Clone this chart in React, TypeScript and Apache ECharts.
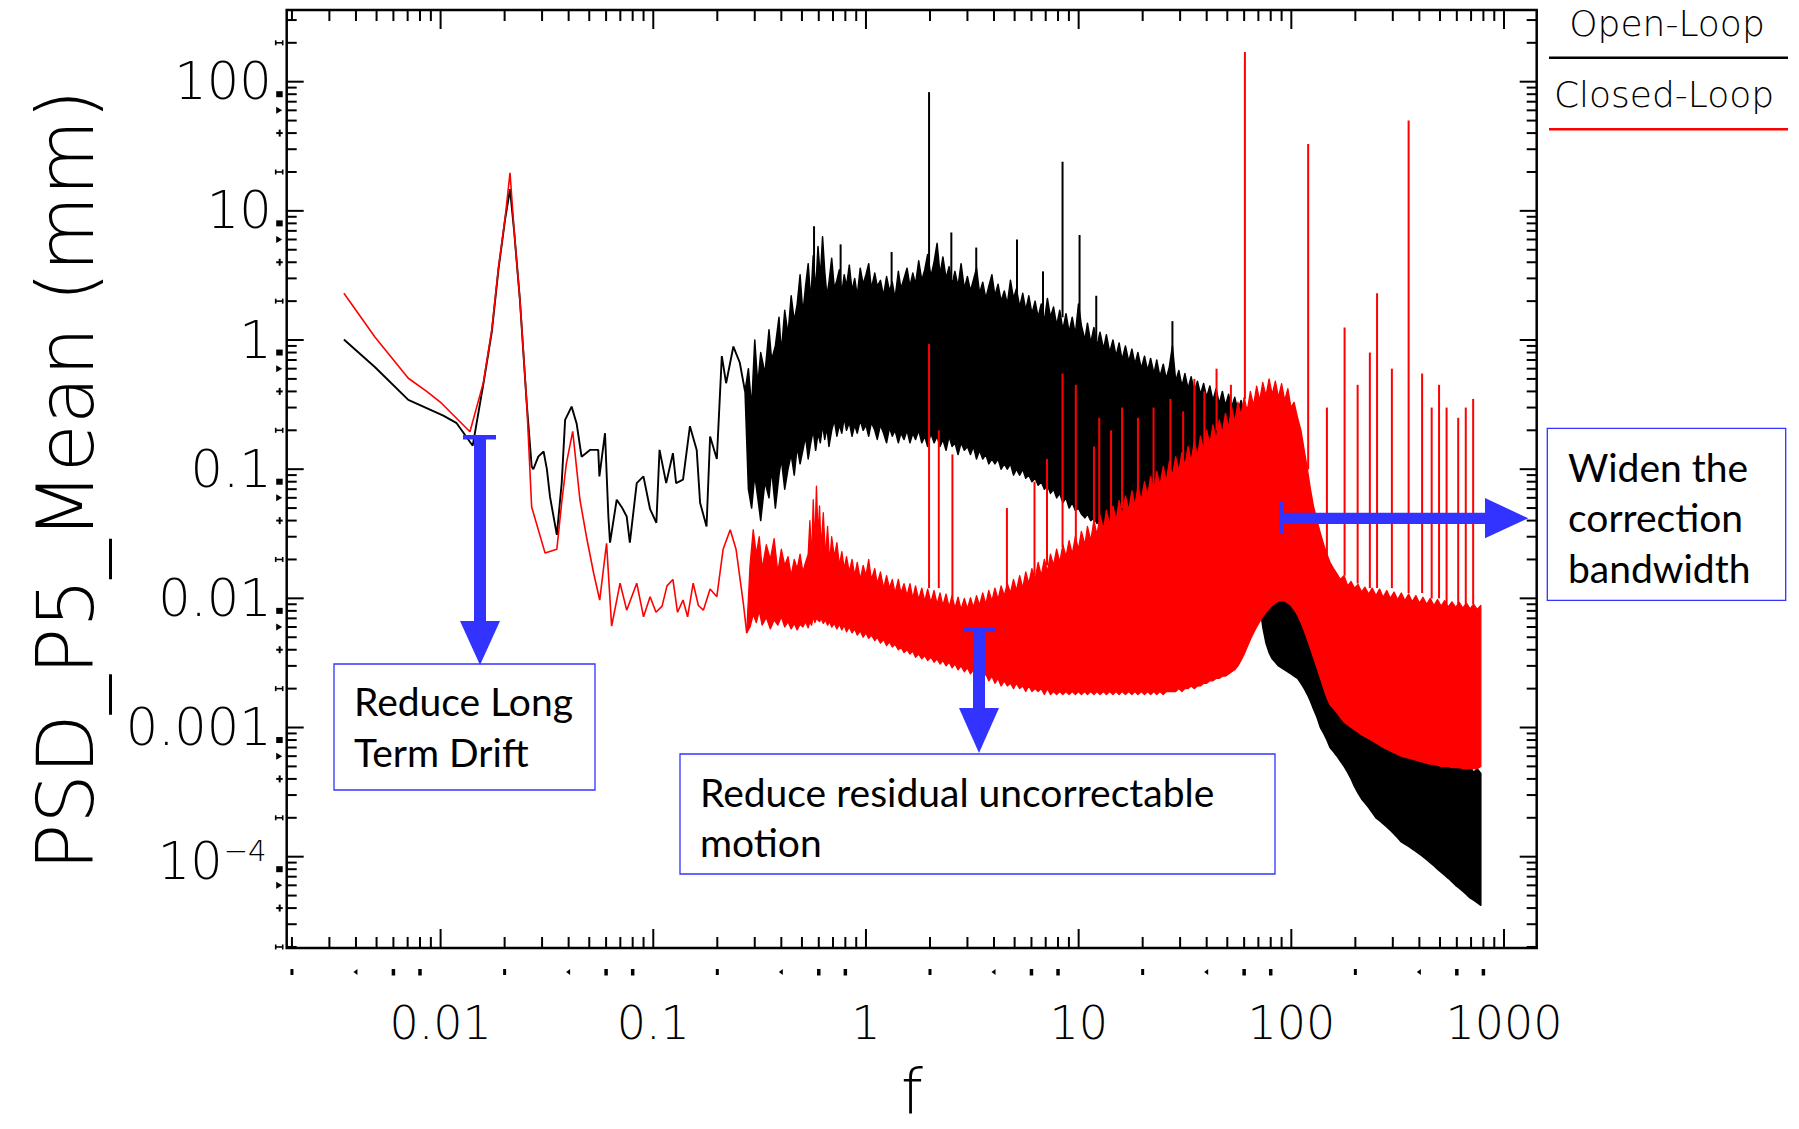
import React, { useEffect, useRef } from "react";
import * as echarts from "echarts";

const PAGE_W = 1799;
const PAGE_H = 1129;

// axis extents, log10
const X_LOG_MIN = -2.7236;
const X_LOG_MAX = 3.1537;
const Y_LOG_MIN = -4.707;
const Y_LOG_MAX = 2.555;

const xTickValues = [0.01, 0.1, 1, 10, 100, 1000];
const xTickLabels = ["0.01", "0.1", "1", "10", "100", "1000"];
const yTickValues = [100, 10, 1, 0.1, 0.01, 0.001];
const yTickLabels = ["100", "10", "1", "0.1", "0.01", "0.001"];
const yPowerTickValue = 0.0001;
const yPowerBase = "10";
const yPowerExponent = "−4";
const minorMultipliers = [2, 3, 4, 5, 6, 7, 8, 9];

const seriesNames = ["Open-Loop", "Closed-Loop"];

// Open-Loop: single-valued part [f, value]
const openLine = [
  [0.00351, 1.01], [0.00492, 0.615], [0.00705, 0.344], [0.0103, 0.26], [0.0119, 0.227], [0.01416, 0.152],
  [0.0159, 0.46], [0.0174, 1.15], [0.0187, 3.5], [0.0201, 8.6], [0.0212, 14.7], [0.0222, 6.8], [0.0236, 2.04],
  [0.0254, 0.324], [0.0268, 0.105], [0.0273, 0.1], [0.0288, 0.125], [0.0305, 0.137], [0.0316, 0.1], [0.0327, 0.061],
  [0.0352, 0.031], [0.0371, 0.078], [0.0385, 0.241], [0.0413, 0.305], [0.0436, 0.226], [0.046, 0.125], [0.0504, 0.141],
  [0.0551, 0.141], [0.0558, 0.088], [0.0593, 0.19], [0.0615, 0.043], [0.0626, 0.027], [0.0673, 0.058], [0.0715, 0.05],
  [0.075, 0.043], [0.0776, 0.027], [0.0836, 0.078], [0.0899, 0.088], [0.0966, 0.049], [0.1034, 0.0385], [0.107, 0.141],
  [0.115, 0.078], [0.1237, 0.133], [0.128, 0.078], [0.138, 0.083], [0.1487, 0.215], [0.16, 0.141], [0.166, 0.055],
  [0.178, 0.036], [0.185, 0.179], [0.199, 0.12], [0.21, 0.75], [0.22, 0.463], [0.238, 0.89], [0.255, 0.67], [0.27, 0.4],
];

// Open-Loop: noisy band [f, upper, lower]
const openBand = [
  [0.27, 0.4, 0.4], [0.28, 0.6, 0.07], [0.29, 0.3, 0.05], [0.3, 1.0, 0.09], [0.31, 0.45, 0.06], [0.32, 0.8, 0.04],
  [0.335, 0.55, 0.08], [0.35, 1.2, 0.06], [0.36, 0.7, 0.1], [0.375, 0.9, 0.05], [0.39, 1.5, 0.09], [0.4, 0.8, 0.12],
  [0.415, 1.7, 0.07], [0.43, 1.1, 0.1], [0.445, 2.2, 0.13], [0.46, 1.4, 0.09], [0.475, 1.9, 0.15], [0.49, 3.2, 0.11],
  [0.505, 1.6, 0.14], [0.52, 2.6, 0.18], [0.535, 3.9, 0.12], [0.55, 2.0, 0.16], [0.565, 4.5, 0.2], [0.58, 2.4, 0.14],
  [0.595, 5.3, 0.19], [0.61, 3.0, 0.16], [0.625, 6.3, 0.22], [0.64, 3.4, 0.17], [0.655, 2.2, 0.21], [0.67, 2.8, 0.15],
  [0.69, 4.3, 0.2], [0.71, 2.5, 0.24], [0.73, 2.9, 0.18], [0.75, 3.5, 0.22], [0.77, 2.3, 0.19], [0.79, 3.2, 0.25],
  [0.81, 2.6, 0.2], [0.835, 3.8, 0.23], [0.86, 2.4, 0.18], [0.885, 3.0, 0.22], [0.91, 2.2, 0.19], [0.94, 3.6, 0.24],
  [0.97, 2.7, 0.2], [1.0, 3.2, 0.22], [1.03, 3.9, 0.18], [1.06, 2.5, 0.23], [1.1, 3.3, 0.2], [1.13, 2.6, 0.17],
  [1.17, 2.9, 0.22], [1.21, 2.2, 0.19], [1.25, 3.1, 0.16], [1.29, 2.4, 0.21], [1.33, 2.8, 0.18], [1.37, 2.1, 0.2],
  [1.42, 3.4, 0.16], [1.46, 2.5, 0.19], [1.51, 3.0, 0.17], [1.56, 3.6, 0.2], [1.61, 2.6, 0.16], [1.66, 3.3, 0.19],
  [1.71, 2.7, 0.17], [1.77, 4.1, 0.2], [1.83, 2.9, 0.16], [1.89, 3.5, 0.18], [1.95, 4.6, 0.15], [2.02, 3.1, 0.19],
  [2.09, 4.0, 0.16], [2.16, 5.6, 0.18], [2.23, 3.2, 0.15], [2.3, 4.4, 0.17], [2.38, 3.0, 0.14], [2.46, 3.7, 0.18],
  [2.54, 2.7, 0.15], [2.62, 3.4, 0.16], [2.71, 2.6, 0.13], [2.8, 3.9, 0.16], [2.9, 2.5, 0.14], [3.0, 3.1, 0.15],
  [3.1, 2.4, 0.13], [3.2, 2.9, 0.15], [3.31, 3.6, 0.12], [3.42, 2.3, 0.14], [3.54, 2.8, 0.12], [3.66, 2.1, 0.13],
  [3.78, 2.6, 0.11], [3.91, 3.2, 0.12], [4.04, 2.2, 0.11], [4.18, 2.7, 0.12], [4.32, 2.0, 0.1], [4.47, 2.4, 0.11],
  [4.62, 1.9, 0.1], [4.78, 2.9, 0.11], [4.94, 2.1, 0.09], [5.1, 2.5, 0.1], [5.28, 1.8, 0.09], [5.46, 2.3, 0.1],
  [5.64, 1.7, 0.085], [5.83, 2.2, 0.09], [6.03, 1.6, 0.08], [6.24, 2.0, 0.085], [6.45, 1.5, 0.075], [6.67, 1.9, 0.08],
  [6.9, 1.4, 0.07], [7.13, 2.1, 0.075], [7.37, 1.5, 0.065], [7.62, 1.8, 0.07], [7.88, 1.3, 0.06], [8.15, 1.7, 0.065],
  [8.43, 1.2, 0.055], [8.72, 1.6, 0.06], [9.02, 1.15, 0.05], [9.33, 1.5, 0.055], [9.65, 1.1, 0.048], [9.98, 1.9, 0.05],
  [10.3, 1.3, 0.045], [10.7, 1.0, 0.042], [11.0, 1.35, 0.045], [11.4, 0.95, 0.04], [11.8, 1.25, 0.042], [12.2, 0.9, 0.038],
  [12.6, 1.15, 0.04], [13.1, 0.85, 0.036], [13.5, 1.1, 0.038], [14.0, 0.8, 0.035], [14.5, 1.0, 0.036], [15.0, 0.75, 0.034],
  [15.5, 0.95, 0.035], [16.0, 0.7, 0.033], [16.6, 0.9, 0.034], [17.2, 0.68, 0.032], [17.8, 0.85, 0.033], [18.4, 0.65, 0.031],
  [19.0, 0.8, 0.032], [19.7, 0.6, 0.03], [20.4, 0.75, 0.031], [21.1, 0.58, 0.03], [21.8, 0.72, 0.03], [22.6, 0.55, 0.029],
  [23.3, 0.7, 0.03], [24.1, 0.52, 0.029], [25.0, 0.65, 0.03], [25.8, 0.5, 0.029], [26.7, 0.62, 0.03], [27.6, 0.9, 0.029],
  [28.6, 0.48, 0.028], [29.6, 0.58, 0.029], [30.6, 0.44, 0.028], [31.6, 0.55, 0.028], [32.7, 0.42, 0.027], [33.8, 0.52, 0.028],
  [35.0, 0.4, 0.027], [36.2, 0.48, 0.027], [37.4, 0.38, 0.026], [38.7, 0.46, 0.026], [40.0, 0.36, 0.025], [41.4, 0.44, 0.025],
  [42.8, 0.34, 0.024], [44.3, 0.42, 0.024], [45.8, 0.32, 0.023], [47.4, 0.4, 0.023], [49.0, 0.31, 0.022], [50.7, 0.38, 0.022],
  [52.4, 0.3, 0.021], [54.2, 0.36, 0.021], [56.1, 0.28, 0.02], [58.0, 0.34, 0.02], [60.0, 0.27, 0.019], [62.0, 0.3, 0.019],
  [64.2, 0.22, 0.018], [66.4, 0.12, 0.016], [68.7, 0.06, 0.012], [71.0, 0.03, 0.009], [73.4, 0.02, 0.006],
  [76.0, 0.016, 0.0045], [78.6, 0.014, 0.0038], [81.3, 0.015, 0.0034], [84.1, 0.013, 0.0032], [87.0, 0.016, 0.003],
  [90.0, 0.012, 0.0029], [93.1, 0.014, 0.0028], [96.3, 0.011, 0.0027], [99.6, 0.013, 0.0026], [103, 0.01, 0.0025],
  [107, 0.011, 0.0024], [111, 0.009, 0.0022], [115, 0.0095, 0.002], [119, 0.008, 0.0018], [123, 0.0072, 0.0016],
  [127, 0.0065, 0.0014], [132, 0.0058, 0.0012], [137, 0.005, 0.001], [142, 0.0044, 0.0009], [147, 0.0038, 0.0008],
  [152, 0.0033, 0.0007], [158, 0.0028, 0.00065], [164, 0.0024, 0.0006], [170, 0.0021, 0.00055], [177, 0.0018, 0.0005],
  [184, 0.0016, 0.00045], [191, 0.0014, 0.0004], [198, 0.00125, 0.00035], [206, 0.0011, 0.00031], [214, 0.0012, 0.00028],
  [222, 0.001, 0.00026], [231, 0.00105, 0.00024], [240, 0.0009, 0.00022], [250, 0.00098, 0.0002], [260, 0.00085, 0.00019],
  [270, 0.0009, 0.00018], [281, 0.0008, 0.00017], [292, 0.00086, 0.00016], [304, 0.00075, 0.00015], [316, 0.0008, 0.00014],
  [329, 0.0007, 0.00013], [342, 0.00076, 0.000125], [356, 0.00068, 0.00012], [370, 0.00072, 0.000115], [385, 0.00064, 0.00011],
  [400, 0.0007, 0.000105], [416, 0.0006, 0.0001], [433, 0.00066, 0.000095], [450, 0.00058, 0.00009], [468, 0.00062, 0.000085],
  [487, 0.00055, 0.00008], [506, 0.0006, 0.000076], [526, 0.00052, 0.000072], [547, 0.00056, 0.000068], [569, 0.0005, 0.000064],
  [592, 0.00054, 0.00006], [616, 0.00048, 0.000057], [640, 0.00052, 0.000054], [666, 0.00046, 0.000051], [692, 0.0005, 0.000048],
  [720, 0.00045, 0.000046], [748, 0.00048, 0.000044], [778, 0.00044, 0.000042],
];

// Open-Loop spikes [f, base, top]
const openSpikes = [
  [0.57, 3.0, 7.6], [0.76, 2.5, 5.5], [1.32, 2.5, 4.8], [1.98, 3.0, 83], [2.52, 3.0, 6.8], [3.3, 2.5, 5.2],
  [5.13, 2.0, 6.0], [6.8, 1.5, 3.4], [8.4, 1.5, 24], [10.1, 1.5, 6.5], [12.1, 1.0, 2.2], [27.6, 0.7, 1.4],
];

// Closed-Loop: single-valued part
const closedLine = [
  [0.00351, 2.3], [0.00492, 1.05], [0.00705, 0.506], [0.0086, 0.4], [0.0101, 0.324], [0.01374, 0.195],
  [0.0159, 0.47], [0.0174, 1.2], [0.0187, 3.6], [0.0201, 8.8], [0.0212, 19.7], [0.0222, 6.8], [0.0236, 2.05],
  [0.0254, 0.33], [0.0268, 0.051], [0.031, 0.0224], [0.0352, 0.024], [0.0371, 0.055], [0.039, 0.11], [0.0418, 0.196],
  [0.0452, 0.058], [0.0485, 0.03], [0.0525, 0.0155], [0.056, 0.0097], [0.0603, 0.0267], [0.0637, 0.0061], [0.0698, 0.0131],
  [0.075, 0.0081], [0.0836, 0.0131], [0.09, 0.0072], [0.0966, 0.0103], [0.103, 0.0078], [0.11, 0.0087], [0.116, 0.0125],
  [0.1237, 0.014], [0.13, 0.0078], [0.138, 0.0097], [0.145, 0.0072], [0.154, 0.0131], [0.163, 0.0088], [0.172, 0.0081],
  [0.185, 0.0118], [0.199, 0.0103], [0.213, 0.024], [0.23, 0.034], [0.245, 0.024], [0.265, 0.0092], [0.275, 0.0054],
];

// Closed-Loop: noisy band [f, upper, lower]
const closedBand = [
  [0.275, 0.0054, 0.0054], [0.285, 0.018, 0.006], [0.295, 0.034, 0.0075], [0.305, 0.022, 0.0065], [0.315, 0.03, 0.008],
  [0.325, 0.017, 0.0062], [0.34, 0.026, 0.0071], [0.355, 0.02, 0.0058], [0.37, 0.029, 0.0068], [0.385, 0.016, 0.0062],
  [0.4, 0.024, 0.0072], [0.415, 0.018, 0.006], [0.43, 0.021, 0.0066], [0.445, 0.015, 0.0058], [0.46, 0.02, 0.0064],
  [0.475, 0.017, 0.0057], [0.49, 0.022, 0.0063], [0.505, 0.016, 0.006], [0.52, 0.019, 0.0066], [0.535, 0.022, 0.0059],
  [0.545, 0.04, 0.0066], [0.555, 0.02, 0.0062], [0.565, 0.058, 0.0072], [0.575, 0.026, 0.0065], [0.585, 0.074, 0.007],
  [0.595, 0.03, 0.0068], [0.605, 0.052, 0.0066], [0.615, 0.024, 0.007], [0.63, 0.046, 0.0064], [0.645, 0.021, 0.0068],
  [0.66, 0.036, 0.0062], [0.675, 0.019, 0.0066], [0.69, 0.03, 0.006], [0.71, 0.021, 0.0064], [0.73, 0.027, 0.0058],
  [0.75, 0.018, 0.0063], [0.77, 0.023, 0.0057], [0.79, 0.017, 0.0062], [0.81, 0.021, 0.0055], [0.835, 0.016, 0.006],
  [0.86, 0.02, 0.0054], [0.885, 0.015, 0.0058], [0.91, 0.019, 0.0052], [0.94, 0.014, 0.0056], [0.97, 0.018, 0.005],
  [1.0, 0.015, 0.0054], [1.03, 0.02, 0.0049], [1.06, 0.014, 0.0052], [1.1, 0.017, 0.0047], [1.13, 0.013, 0.005],
  [1.17, 0.016, 0.0045], [1.21, 0.012, 0.0048], [1.25, 0.015, 0.0043], [1.29, 0.012, 0.0046], [1.33, 0.014, 0.0042],
  [1.37, 0.011, 0.0044], [1.42, 0.014, 0.004], [1.46, 0.011, 0.0042], [1.51, 0.013, 0.0038], [1.56, 0.0105, 0.004],
  [1.61, 0.013, 0.0037], [1.66, 0.01, 0.0039], [1.71, 0.0125, 0.0035], [1.77, 0.0098, 0.0037], [1.83, 0.012, 0.0034],
  [1.89, 0.0095, 0.0036], [1.95, 0.0118, 0.0033], [2.02, 0.0093, 0.0035], [2.09, 0.0115, 0.0032], [2.16, 0.009, 0.0034],
  [2.23, 0.011, 0.0031], [2.3, 0.0088, 0.0033], [2.38, 0.0108, 0.003], [2.46, 0.0086, 0.0032], [2.54, 0.0105, 0.0029],
  [2.62, 0.0084, 0.0031], [2.71, 0.0102, 0.0028], [2.8, 0.0082, 0.003], [2.9, 0.01, 0.0027], [3.0, 0.0083, 0.0029],
  [3.1, 0.0101, 0.0026], [3.2, 0.0085, 0.0028], [3.31, 0.0105, 0.0025], [3.42, 0.0088, 0.0027], [3.54, 0.011, 0.0024],
  [3.66, 0.009, 0.0026], [3.78, 0.0115, 0.0023], [3.91, 0.0095, 0.0025], [4.04, 0.012, 0.0022], [4.18, 0.0098, 0.0024],
  [4.32, 0.0125, 0.0021], [4.47, 0.0105, 0.0023], [4.62, 0.013, 0.0021], [4.78, 0.011, 0.0022], [4.94, 0.014, 0.002],
  [5.1, 0.0115, 0.0022], [5.28, 0.015, 0.002], [5.46, 0.012, 0.0021], [5.64, 0.016, 0.0019], [5.83, 0.013, 0.0021],
  [6.03, 0.017, 0.0019], [6.24, 0.014, 0.002], [6.45, 0.019, 0.0019], [6.67, 0.015, 0.002], [6.9, 0.02, 0.0018],
  [7.13, 0.016, 0.002], [7.37, 0.022, 0.0018], [7.62, 0.018, 0.0019], [7.88, 0.024, 0.0018], [8.15, 0.019, 0.0019],
  [8.43, 0.026, 0.0018], [8.72, 0.021, 0.0019], [9.02, 0.028, 0.0018], [9.33, 0.022, 0.0019], [9.65, 0.03, 0.0018],
  [9.98, 0.024, 0.0019], [10.3, 0.033, 0.0018], [10.7, 0.026, 0.0019], [11.0, 0.036, 0.0018], [11.4, 0.028, 0.0019],
  [11.8, 0.04, 0.0018], [12.2, 0.031, 0.0019], [12.6, 0.044, 0.0018], [13.1, 0.034, 0.0019], [13.5, 0.048, 0.0018],
  [14.0, 0.037, 0.0019], [14.5, 0.052, 0.0018], [15.0, 0.04, 0.0019], [15.5, 0.057, 0.0018], [16.0, 0.044, 0.0019],
  [16.6, 0.062, 0.0018], [17.2, 0.048, 0.0019], [17.8, 0.068, 0.0018], [18.4, 0.052, 0.0019], [19.0, 0.074, 0.0018],
  [19.7, 0.057, 0.0019], [20.4, 0.08, 0.0018], [21.1, 0.062, 0.0019], [21.8, 0.088, 0.0018], [22.6, 0.068, 0.0019],
  [23.3, 0.096, 0.0018], [24.1, 0.074, 0.0019], [25.0, 0.105, 0.0018], [25.8, 0.08, 0.0019], [26.7, 0.115, 0.0019],
  [27.6, 0.088, 0.0019], [28.6, 0.125, 0.0019], [29.6, 0.096, 0.002], [30.6, 0.135, 0.0019], [31.6, 0.105, 0.002],
  [32.7, 0.15, 0.002], [33.8, 0.115, 0.0021], [35.0, 0.165, 0.002], [36.2, 0.125, 0.0021], [37.4, 0.18, 0.0021],
  [38.7, 0.14, 0.0022], [40.0, 0.2, 0.0022], [41.4, 0.155, 0.0023], [42.8, 0.22, 0.0023], [44.3, 0.17, 0.0024],
  [45.8, 0.24, 0.0024], [47.4, 0.19, 0.0025], [49.0, 0.27, 0.0025], [50.7, 0.21, 0.0026], [52.4, 0.3, 0.0027],
  [54.2, 0.23, 0.0028], [56.1, 0.33, 0.003], [58.0, 0.26, 0.0033], [60.0, 0.36, 0.0037], [62.0, 0.28, 0.0042],
  [64.2, 0.4, 0.0048], [66.4, 0.31, 0.0054], [68.7, 0.44, 0.006], [71.0, 0.34, 0.0066], [73.4, 0.47, 0.0072],
  [76.0, 0.37, 0.0078], [78.6, 0.5, 0.0083], [81.3, 0.38, 0.0088], [84.1, 0.48, 0.0092], [87.0, 0.36, 0.0095],
  [90.0, 0.46, 0.0096], [93.1, 0.34, 0.0095], [96.3, 0.42, 0.0092], [99.6, 0.3, 0.0088], [103, 0.33, 0.0082],
  [107, 0.25, 0.0074], [111, 0.2, 0.0065], [115, 0.14, 0.0056], [119, 0.1, 0.0048], [123, 0.07, 0.0041],
  [127, 0.052, 0.0035], [132, 0.04, 0.0029], [137, 0.032, 0.0024], [142, 0.026, 0.002], [147, 0.022, 0.0017],
  [152, 0.019, 0.0015], [158, 0.017, 0.0014], [164, 0.0155, 0.0013], [170, 0.014, 0.0012], [177, 0.015, 0.0011],
  [184, 0.0125, 0.00105], [191, 0.0135, 0.001], [198, 0.012, 0.00096], [206, 0.0128, 0.00092], [214, 0.0112, 0.00088],
  [222, 0.0122, 0.00085], [231, 0.0108, 0.00082], [240, 0.012, 0.00079], [250, 0.0105, 0.00076], [260, 0.0118, 0.00073],
  [270, 0.0102, 0.0007], [281, 0.0115, 0.00068], [292, 0.01, 0.00066], [304, 0.0112, 0.00064], [316, 0.0098, 0.00062],
  [329, 0.011, 0.0006], [342, 0.0096, 0.00059], [356, 0.0108, 0.00058], [370, 0.0094, 0.00057], [385, 0.0105, 0.00056],
  [400, 0.0092, 0.00055], [416, 0.0102, 0.00054], [433, 0.009, 0.00053], [450, 0.01, 0.00052], [468, 0.0088, 0.00052],
  [487, 0.0098, 0.00051], [506, 0.0087, 0.0005], [526, 0.0096, 0.0005], [547, 0.0086, 0.0005], [569, 0.0094, 0.00049],
  [592, 0.0085, 0.00049], [616, 0.0093, 0.00049], [640, 0.0084, 0.00048], [666, 0.0092, 0.00048], [692, 0.0083, 0.00048],
  [720, 0.009, 0.00048], [748, 0.0082, 0.00048], [778, 0.0088, 0.0005],
];

// Closed-Loop spikes [f, base, top]
const closedSpikes = [
  [1.98, 0.012, 0.93], [2.2, 0.012, 0.2], [2.55, 0.01, 0.13], [4.6, 0.012, 0.05], [6.2, 0.015, 0.08], [7.1, 0.018, 0.12],
  [8.4, 0.025, 0.55], [9.7, 0.025, 0.45], [11.8, 0.03, 0.15], [12.5, 0.04, 0.25], [14.2, 0.04, 0.2], [16, 0.05, 0.3],
  [19, 0.06, 0.25], [22.5, 0.07, 0.3], [27, 0.1, 0.35], [31, 0.1, 0.28], [35, 0.15, 0.5], [39, 0.15, 0.4],
  [44.5, 0.2, 0.6], [52, 0.25, 0.45], [60.5, 0.35, 170], [120, 0.1, 33], [147, 0.02, 0.3], [178, 0.015, 1.25],
  [205, 0.013, 0.45], [234, 0.012, 0.8], [253, 0.012, 2.3], [297, 0.012, 0.6], [356, 0.011, 50], [412, 0.011, 0.55],
  [457, 0.01, 0.3], [495, 0.01, 0.45], [537, 0.009, 0.3], [609, 0.009, 0.25], [661, 0.009, 0.3], [716, 0.009, 0.35],
];

const BLACK = "#000000";
const RED = "#ff0000";
const BLUE = "#3333ff";
const IDL_FONT = "'DejaVu Sans', 'Liberation Sans', sans-serif";
const NOTE_FONT = "Lato, 'Open Sans', sans-serif";

function bandSeries(name: string, band: number[][], color: string, lw: number) {
  return {
    type: "custom",
    name,
    clip: true,
    silent: true,
    data: [[band[0][0], band[0][1]]],
    renderItem: (_params: any, api: any) => {
      const pts: number[][] = [];
      for (let i = 0; i < band.length; i++) pts.push(api.coord([band[i][0], band[i][1]]));
      for (let i = band.length - 1; i >= 0; i--) pts.push(api.coord([band[i][0], band[i][2]]));
      return {
        type: "polygon",
        shape: { points: pts },
        style: { fill: color, stroke: color, lineWidth: lw, lineJoin: "round" },
      };
    },
  };
}

function spikeSeries(name: string, spikes: number[][], color: string, lw: number) {
  return {
    type: "custom",
    name,
    clip: true,
    silent: true,
    data: spikes.map((s) => [s[0], s[1], s[2]]),
    encode: { x: 0, y: 2 },
    renderItem: (_params: any, api: any) => {
      const p1 = api.coord([api.value(0), api.value(1)]);
      const p2 = api.coord([api.value(0), api.value(2)]);
      return {
        type: "line",
        shape: { x1: p1[0], y1: p1[1], x2: p2[0], y2: p2[1] },
        style: { stroke: color, lineWidth: lw },
      };
    },
  };
}

function txt(text: string, x: number, y: number, size: number, align: string, family: string, weight: any = "normal", extra: any = {}) {
  return {
    type: "text",
    x,
    y,
    ...extra,
    style: {
      text,
      fill: BLACK,
      fontSize: size,
      fontFamily: family,
      fontWeight: weight,
      align,
      textAlign: align,
      verticalAlign: "middle",
      textVerticalAlign: "middle",
    },
  };
}

function renderDecor(params: any, api: any) {
  const cs = params.coordSys;
  const L = cs.x, T = cs.y, R = cs.x + cs.width, B = cs.y + cs.height;
  const X0 = Math.pow(10, X_LOG_MIN), X1 = Math.pow(10, X_LOG_MAX);
  const Y0 = Math.pow(10, Y_LOG_MIN), Y1 = Math.pow(10, Y_LOG_MAX);
  const kids: any[] = [];
  const line = (x1: number, y1: number, x2: number, y2: number, w: number) =>
    kids.push({ type: "line", shape: { x1, y1, x2, y2 }, style: { stroke: BLACK, lineWidth: w } });
  const rect = (x: number, y: number, w: number, h: number) =>
    kids.push({ type: "rect", shape: { x, y, width: w, height: h }, style: { fill: BLACK } });
  const poly = (points: number[][]) => kids.push({ type: "polygon", shape: { points }, style: { fill: BLACK } });
  const mults = [1, ...minorMultipliers];

  // x-axis ticks (bottom and top) and the small marks below the bottom axis
  for (let k = -3; k <= 3; k++) {
    for (const m of mults) {
      const v = m * Math.pow(10, k);
      if (v <= X0 || v >= X1) continue;
      const px = api.coord([v, Y0])[0];
      const len = m === 1 ? 19 : 11;
      line(px, B, px, B - len, 2);
      line(px, T, px, T + len, 2);
      const my = B + 24;
      if (m === 2) rect(px - 1.5, my - 3, 3, 6);
      if (m === 6 || m === 8) rect(px - 1.75, my - 3, 3.5, 6.5);
      if (m === 4) poly([[px - 2.5, my], [px + 1.5, my - 3], [px + 1.5, my + 3]]);
    }
  }
  // y-axis ticks (left and right) and the small marks left of the axis
  for (let k = -5; k <= 2; k++) {
    for (const m of mults) {
      const v = m * Math.pow(10, k);
      if (v <= Y0 || v >= Y1) continue;
      const py = api.coord([X0, v])[1];
      const len = m === 1 ? 17 : 10;
      line(L, py, L + len, py, 2);
      line(R, py, R - len, py, 2);
      const mx = L - 7;
      if (m === 8) rect(mx - 3.5, py - 3, 6.5, 6);
      if (m === 6) poly([[mx - 3.5, py - 3.5], [mx - 3.5, py + 3.5], [mx + 2.5, py]]);
      if (m === 4) {
        line(mx - 3.5, py, mx + 3, py, 2);
        line(mx, py - 3.5, mx, py + 3.5, 2);
      }
      if (m === 2) {
        line(mx - 4, py, mx + 3, py, 1.6);
        line(mx - 4, py - 2.5, mx - 4, py + 2.5, 1.6);
        line(mx + 3, py - 2.5, mx + 3, py + 2.5, 1.6);
      }
    }
  }
  // tick labels
  xTickValues.forEach((v, i) => {
    const px = api.coord([v, Y0])[0];
    kids.push(txt(xTickLabels[i], px, B + 75, 46, "center", IDL_FONT, 200));
  });
  yTickValues.forEach((v, i) => {
    const py = api.coord([X0, v])[1];
    kids.push(txt(yTickLabels[i], L - 15, py, 51, "right", IDL_FONT, 200));
  });
  const pp = api.coord([X0, yPowerTickValue])[1];
  kids.push(txt(yPowerBase, L - 64, pp + 5, 51, "right", IDL_FONT, 200));
  kids.push(txt(yPowerExponent, L - 63, pp - 6, 29, "left", IDL_FONT, 200));
  return { type: "group", children: kids };
}

function buildOption() {
  const grid = { left: 286.7, top: 10, width: 1250, height: 938 };
  const annotationGraphics: any[] = [];
  const rect = (x: number, y: number, w: number, h: number, style: any) =>
    annotationGraphics.push({ type: "rect", shape: { x, y, width: w, height: h }, style, z: 100 });
  const poly = (points: number[][]) =>
    annotationGraphics.push({ type: "polygon", shape: { points }, style: { fill: BLUE }, z: 101 });
  const boxStyle = { fill: "#ffffff", stroke: BLUE, lineWidth: 1.3 };
  const noteText = (t: string, x: number, baseline: number) =>
    annotationGraphics.push({ ...txt(t, x, baseline - 15.1, 39, "left", NOTE_FONT, "normal"), z: 102 });

  // Box 1
  rect(334, 664, 261, 126, boxStyle);
  noteText("Reduce Long", 354, 716);
  noteText("Term Drift", 354, 767);
  // Box 2
  rect(680, 754, 595, 120, boxStyle);
  noteText("Reduce residual uncorrectable", 700, 807);
  noteText("motion", 700, 857);
  // Box 3
  rect(1547.3, 428.3, 238.4, 172, boxStyle);
  noteText("Widen the", 1568, 481.7);
  noteText("correction", 1568, 531.7);
  noteText("bandwidth", 1568, 582.7);

  // Arrow 1 (down)
  rect(463, 435, 33, 4.5, { fill: BLUE });
  rect(474, 436, 12, 186, { fill: BLUE });
  poly([[460, 621], [500, 621], [480, 665]]);
  // Arrow 2 (down)
  rect(963, 627.5, 33, 4.5, { fill: BLUE });
  rect(973, 629, 12, 80, { fill: BLUE });
  poly([[959, 708], [999, 708], [979, 753]]);
  // Arrow 3 (right)
  rect(1279, 501.7, 4.5, 31.6, { fill: BLUE });
  rect(1281, 512.7, 205, 11.3, { fill: BLUE });
  poly([[1485, 498], [1485, 538.3], [1528.3, 518.3]]);

  // Legend
  annotationGraphics.push({ ...txt(seriesNames[0], 1667, 23.5, 36, "center", IDL_FONT, 200), z: 90 });
  annotationGraphics.push({ type: "line", shape: { x1: 1549, y1: 57.7, x2: 1788, y2: 57.7 }, style: { stroke: BLACK, lineWidth: 2.5 }, z: 90 });
  annotationGraphics.push({ ...txt(seriesNames[1], 1664, 94.5, 36, "center", IDL_FONT, 200), z: 90 });
  annotationGraphics.push({ type: "line", shape: { x1: 1549, y1: 129.3, x2: 1788, y2: 129.3 }, style: { stroke: RED, lineWidth: 2.5 }, z: 90 });

  // Axis titles
  annotationGraphics.push({ ...txt("PSD_P5_Mean (mm)", 66, 480, 78, "center", IDL_FONT, 200, { rotation: Math.PI / 2 }), z: 90 });
  annotationGraphics.push({ ...txt("f", 912, 1091, 62, "center", IDL_FONT, 200), z: 90 });

  return {
    animation: false,
    backgroundColor: "#ffffff",
    grid: { ...grid, show: true, borderColor: BLACK, borderWidth: 2.5, backgroundColor: "transparent", containLabel: false },
    xAxis: {
      type: "log",
      logBase: 10,
      min: Math.pow(10, X_LOG_MIN),
      max: Math.pow(10, X_LOG_MAX),
      axisLine: { show: false },
      axisTick: { show: false },
      axisLabel: { show: false },
      splitLine: { show: false },
    },
    yAxis: {
      type: "log",
      logBase: 10,
      min: Math.pow(10, Y_LOG_MIN),
      max: Math.pow(10, Y_LOG_MAX),
      axisLine: { show: false },
      axisTick: { show: false },
      axisLabel: { show: false },
      splitLine: { show: false },
    },
    series: [
      {
        type: "line",
        name: seriesNames[0],
        data: openLine.map((p) => [p[0], p[1]]),
        symbol: "none",
        lineStyle: { color: BLACK, width: 1.9 },
        silent: true,
      },
      bandSeries(seriesNames[0] + " band", openBand, BLACK, 1.5),
      spikeSeries(seriesNames[0] + " spikes", openSpikes, BLACK, 2),
      {
        type: "line",
        name: seriesNames[1],
        data: closedLine.map((p) => [p[0], p[1]]),
        symbol: "none",
        lineStyle: { color: RED, width: 1.6 },
        silent: true,
      },
      bandSeries(seriesNames[1] + " band", closedBand, RED, 1.3),
      spikeSeries(seriesNames[1] + " spikes", closedSpikes, RED, 2),
      {
        type: "custom",
        name: "axes",
        clip: false,
        silent: true,
        z: 10,
        data: [[1, 1]],
        renderItem: renderDecor,
      },
    ],
    graphic: { elements: annotationGraphics },
  };
}

export default function App() {
  const ref = useRef<HTMLDivElement>(null);
  useEffect(() => {
    if (!ref.current) return;
    const chart = echarts.init(ref.current, null, { renderer: "svg" });
    chart.setOption(buildOption() as any);
    return () => chart.dispose();
  }, []);
  return (
    <div
      ref={ref}
      style={{ position: "fixed", left: 0, top: 0, width: PAGE_W, height: PAGE_H, background: "#ffffff" }}
    />
  );
}
